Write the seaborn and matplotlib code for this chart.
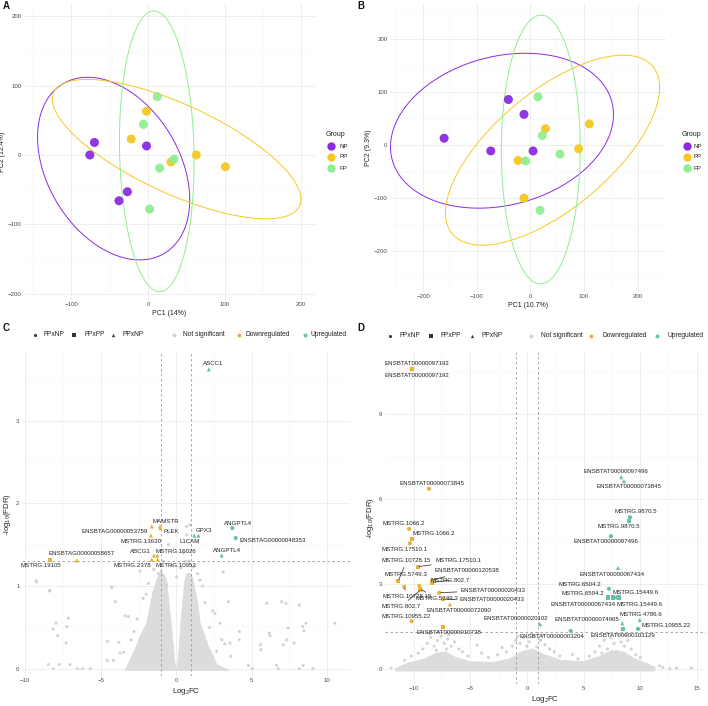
import numpy as np
import pandas as pd
import matplotlib
matplotlib.use("Agg")
import matplotlib.pyplot as plt
from matplotlib.lines import Line2D
import seaborn as sns

# ---------------- data ----------------
groups = ["NP", "PP", "FP"]
group_colors = {"NP": "#8A2BE2", "PP": "#F4C922", "FP": "#90EE90"}

# PCA panel A
A_NP_x = [-70, -76, -2, -27, -38]
A_NP_y = [18, 0, 13, -53, -66]
A_PP_x = [-2, -22, 30, 63, 101]
A_PP_y = [63, 23, -10, 0, -17]
A_FP_x = [12, -6, 15, 34, 2]
A_FP_y = [84, 44, -19, -6, -78]
# PCA panel B
B_NP_x = [-161, -41, -12, -74, 5]
B_NP_y = [13, 86, 58, -11, -11]
B_PP_x = [28, 110, 90, -23, -12]
B_PP_y = [31, 40, -7, -29, -100]
B_FP_x = [14, 22, 55, -9, 18]
B_FP_y = [91, 18, -17, -30, -123]

comparisons = ["FPxNP", "FPxPP", "PPxNP"]
reg_colors = {"Not significant": "#D3D3D3", "Downregulated": "#E8B23A", "Upregulated": "#66C2A5"}
fc_cut = 1.0
fdr_cut = 0.05
ellipse_level = 0.95

# Volcano C: labelled genes
C_names = ["ASCC1", "MAMSTR", "ENSBTAG00000053759", "PLEK", "MSTRG.13630", "GPX3", "L1CAM",
           "ANGPTL4", "ENSBTAG00000048353", "ANGPTL4", "ENSBTAG00000058657", "MSTRG.19105",
           "ABCG1", "MSTRG.16026", "MSTRG.2378", "MSTRG.10953"]
C_lfc = [2.15, -1.08, -1.63, -1.05, -1.68, 1.46, 1.19, 3.71, 3.93, 3.0, -6.6, -8.36,
         -1.48, -1.26, -1.63, -1.23]
C_nlogfdr = [3.62, 1.72, 1.72, 1.70, 1.61, 1.61, 1.61, 1.70, 1.58, 1.37, 1.31, 1.31,
             1.37, 1.37, 1.32, 1.32]
C_cmp = ["PPxNP", "PPxNP", "PPxNP", "PPxNP", "PPxNP", "PPxNP", "PPxNP", "FPxNP", "FPxNP",
         "PPxNP", "PPxNP", "FPxPP", "PPxNP", "PPxNP", "PPxNP", "PPxNP"]
# Volcano C: scattered non-significant genes
C_ns_x = [-9.25, -8.4, -8.15, -7.97, -7.15, -7.26, -7.86, -7.3, -8.48, -8.15, -7.75, -7.04,
          -6.56, -6.2, -5.7, -4.57, -4.17, -4.57, -3.8, -4.04, -4.28, -3.4, -3.18, -3.73,
          3.44, 4.17, 4.17, 3.55, 4.77, 5.03, 5.6, 5.98, 6.16, 6.2, 5.58, 6.64, 6.75, 6.97,
          7.26, 7.3, 7.08, 7.4, 7.8, 8.15, 8.37, 8.45, 8.59, 8.15, 9.03, 8.4, 10.5, 3.0,
          2.67, 2.56, 0.69, 0.9, 0.69, 0.46, 0.6, 1.13, 1.57, 3.1, 0.02, -1.85, -4.28,
          -8.36, -9.29, -0.64, -1.19, -2.4, -0.53, -1.0, 1.4, -0.3, 0.3, -2.8, 2.2, -3.5,
          3.6, -2.2, 1.9, -1.5, 1.75, -0.85, 0.85, -2.6, -2.0, 2.4, 2.9, -3.0, 3.2]
C_ns_y = [1.05, 0.94, 0.48, 0.55, 0.61, 0.51, 0.40, 0.31, 0.05, 0.0, 0.05, 0.05,
          0.0, 0.0, 0.0, 0.1, 0.1, 0.33, 0.32, 0.81, 0.99, 0.64, 0.63, 0.19,
          0.81, 0.45, 0.35, 0.31, 0.04, 0.0, 0.23, 0.79, 0.43, 0.4, 0.29, 0.04, 0.0, 0.81,
          0.79, 0.35, 0.29, 0.49, 0.31, 0.77, 0.51, 0.46, 0.55, 0.0, 0.0, 0.04, 0.55, 0.35,
          0.21, 0.67, 1.72, 1.74, 1.62, 1.40, 1.3, 1.23, 1.07, 1.17, 1.11, 1.03, 0.98,
          0.95, 1.06, 1.01, 1.15, 1.18, 1.5, 1.17, 1.15, 1.25, 1.22, 0.45, 0.5, 0.2,
          0.15, 0.85, 0.8, 1.2, 1.0, 1.3, 1.3, 0.6, 0.9, 0.7, 0.55, 0.35, 0.3]
# Volcano C: dense cloud outline (left and right lobes)
C_cloudL_x = [-3.4, -3.2, -2.95, -2.63, -2.4, -1.96, -1.74, -1.52, -1.3, -1.1, -0.85,
              -0.64, -0.53, -0.42, -0.3, -0.2, -0.08, 0.0]
C_cloudL_y = [-0.02, 0.05, 0.15, 0.27, 0.39, 0.55, 0.75, 0.95, 1.07, 1.15, 1.15,
              1.07, 0.87, 0.67, 0.47, 0.27, 0.05, -0.02]
C_cloudR_x = [0.0, 0.09, 0.2, 0.35, 0.57, 0.7, 0.95, 1.13, 1.24, 1.46, 1.57, 1.9,
              2.12, 2.45, 2.67, 3.5]
C_cloudR_y = [-0.02, 0.05, 0.27, 0.67, 1.07, 1.15, 1.15, 1.07, 0.95, 0.75, 0.55, 0.39,
              0.27, 0.15, 0.05, -0.02]

# Volcano D: labelled genes
D_names = ["ENSBTAT00000097192", "ENSBTAT00000097192", "ENSBTAT00000073845", "MSTRG.1066.2",
           "MSTRG.1066.2", "MSTRG.17510.1", "MSTRG.17510.1", "MSTRG.10728.15", "MSTRG.10728.15",
           "MSTRG.5749.3", "MSTRG.5749.3", "ENSBTAT00000120538", "MSTRG.802.7", "MSTRG.802.7",
           "ENSBTAT00000020433", "ENSBTAT00000020433", "ENSBTAT00000072090", "MSTRG.10955.22",
           "ENSBTAT00000010738",
           "ENSBTAT00000020102", "ENSBTAT00000003204", "ENSBTAT00000074965", "MSTRG.4786.6",
           "MSTRG.10955.22", "ENSBTAT00000103129", "ENSBTAT00000067434", "MSTRG.6504.2",
           "MSTRG.6504.2", "MSTRG.15449.6", "MSTRG.15449.6", "ENSBTAT00000067434",
           "ENSBTAT00000097496", "ENSBTAT00000073845", "MSTRG.9870.5", "MSTRG.9870.5",
           "ENSBTAT00000097496"]
D_lfc = [-10.18, -10.18, -8.65, -10.41, -10.15, -10.33, -9.65, -11.36, -10.83, -9.5, -9.44,
         -8.33, -8.4, -9.38, -7.74, -7.39, -6.8, -10.18, -7.39,
         1.15, 3.86, 8.41, 9.95, 9.8, 8.5, 8.03, 7.24, 7.12, 7.94, 8.15, 7.6, 8.33, 8.56,
         9.09, 9.03, 7.41]
D_nlogfdr = [10.6, 10.6, 6.37, 4.95, 4.6, 4.44, 3.61, 3.11, 2.9, 2.93, 2.82, 3.14, 3.05, 2.79,
             2.69, 2.46, 2.28, 1.68, 1.48,
             1.58, 1.34, 1.61, 1.73, 1.41, 1.41, 3.57, 2.83, 2.52, 2.52, 2.52, 2.52, 6.78,
             6.64, 5.36, 5.22, 4.69]
D_cmp = ["FPxNP", "FPxPP", "FPxNP", "FPxNP", "FPxPP", "FPxNP", "FPxPP", "FPxPP", "FPxNP",
         "FPxNP", "FPxPP", "FPxNP", "FPxPP", "FPxNP", "FPxNP", "FPxPP", "PPxNP", "FPxNP",
         "FPxPP",
         "PPxNP", "FPxNP", "PPxNP", "PPxNP", "FPxNP", "FPxPP", "PPxNP", "FPxNP", "FPxPP",
         "FPxNP", "FPxPP", "FPxPP", "PPxNP", "PPxNP", "FPxNP", "FPxPP", "FPxNP"]
# Volcano D: scattered non-significant genes
D_ns_x = [-9.2, -8.8, -8.5, -8.2, -7.9, -7.6, -7.3, -7.0, -6.7, -6.4, -6.0, -5.7, -8.0,
          -7.1, -9.6, -10.2, -10.8, -5.2, -4.4, -4.0, -3.4, -2.6,
          -1.8, -1.3, -1.0, -0.6, -0.3, 0.2, 0.6, 0.85, 1.2, 1.6, 2.0, 2.4, 2.9, -2.2, 0.0, 1.4,
          5.5, 6.0, 6.4, 6.8, 7.1, 7.4, 7.7, 8.0, 8.3, 8.6, 8.9, 9.2, 9.6, 10.0, 7.9, 6.6,
          4.5, 4.0, 12.0, 12.6, 13.2, 14.5, 11.7, -12.0, -8.6, -7.8, -6.9, 0.4, -0.8, 7.2, 8.7]
D_ns_y = [0.7, 0.9, 1.1, 0.8, 1.0, 1.15, 0.9, 1.05, 0.8, 0.95, 0.7, 0.6, 0.65,
          0.7, 0.55, 0.45, 0.3, 0.45, 0.84, 0.55, 0.4, 0.5,
          0.6, 0.8, 1.0, 0.9, 1.1, 0.95, 1.15, 0.78, 1.0, 0.85, 0.7, 0.6, 0.45, 0.75, 0.8, 1.2,
          0.45, 0.6, 0.8, 1.0, 0.7, 1.1, 0.9, 1.2, 0.95, 0.8, 1.0, 0.7, 0.5, 0.4, 0.6, 0.55,
          0.35, 0.5, 0.05, 0.0, 0.02, 0.03, 0.1, 0.02, 1.25, 1.3, 1.2, 1.25, 1.15, 1.25, 1.2]
# Volcano D: dense band outline
D_band_x = [-11.6, -11.0, -10.5, -9.0, -8.0, -7.2, -6.3, -5.0, -3.0, -1.5, -0.5, 0.5, 1.5,
            3.0, 5.0, 6.5, 7.5, 8.5, 9.5, 10.5, 11.3, 11.3, -11.6]
D_band_y = [0.0, 0.12, 0.2, 0.35, 0.55, 0.6, 0.4, 0.25, 0.22, 0.35, 0.6, 0.7, 0.5,
            0.3, 0.25, 0.45, 0.65, 0.6, 0.35, 0.2, 0.05, -0.08, -0.08]

# label placement (pixel offsets, segment flag) -- layout only
C_lab_off = [(4.6, 6), (5.7, 5.1), (-36.7, -4.6), (10.9, -3.7), (-10.3, -6.1), (5.4, 4.9),
             (-4.3, -6.4), (5.7, 4.8), (36.7, -2.3), (5.7, 5.1), (5.4, 6.7), (-9.3, -5.6),
             (-14, 3.7), (18.7, 3.7), (-19.4, -5.8), (18.3, -5.8)]
D_lab_off = [(5.6, 6.2, 0), (5.6, -6.2, 0), (2.7, 4.9, 0), (-5.7, 5.3, 0), (21.3, 5.5, 0),
             (-5.7, -6.6, 0), (40.6, 5.8, 1), (8.4, 19.9, 1), (2.7, -9.9, 1), (-13.4, 11, 0),
             (16.7, -9.2, 1), (34.1, 9.3, 1), (18.2, 2.3, 1), (-20, -16.7, 1), (54, 2.5, 1),
             (48.4, -0.7, 1), (9, -5.7, 0), (-5.7, 5, 0), (6, -5.8, 0),
             (-24.3, 5.8, 0), (-18.4, -5.8, 0), (-35.6, 3.9, 0), (1.6, 5.6, 0), (28.3, 3.2, 0),
             (-0.6, -6.4, 0), (-5.7, -6.8, 0), (-29, 4.1, 0), (-24.4, 3.6, 0), (18.7, 4.9, 0),
             (20, -6.7, 0), (-29.8, -6.7, 0), (-5.4, 5.6, 0), (5.3, -5.7, 0), (6, 6.1, 0),
             (-10, -5.7, 0), (-5, -5.4, 0)]

# ---------------- style ----------------
sns.set_style("white")
plt.rcParams["font.family"] = ["Liberation Sans", "DejaVu Sans"]
plt.rcParams["mathtext.fontset"] = "custom"
plt.rcParams["mathtext.rm"] = "Liberation Sans"
plt.rcParams["mathtext.it"] = "Liberation Sans:italic"
plt.rcParams["mathtext.default"] = "regular"

W, H = 708, 706
fig = plt.figure(figsize=(W / 100, H / 100), dpi=100)
fig.patch.set_facecolor("white")
TICK_FS = 4.4
TITLE_FS = 5.0


def add_ax(l, t, r, b):
    return fig.add_axes([l / W, 1 - b / H, (r - l) / W, (b - t) / H])


def style_ax(ax, xt, yt, xminor, yminor):
    for s in ax.spines.values():
        s.set_visible(False)
    ax.set_xticks(xt)
    ax.set_yticks(yt)
    ax.set_xticks(xminor, minor=True)
    ax.set_yticks(yminor, minor=True)
    ax.tick_params(which="both", length=0, labelsize=TICK_FS, labelcolor="#4D4D4D", pad=1.8)
    ax.grid(True, which="major", color="#EBEBEB", lw=0.6)
    ax.grid(True, which="minor", color="#F4F4F4", lw=0.35)
    ax.set_axisbelow(True)


def cov_trob(X, nu=5, maxit=25, tol=0.01):
    # multivariate-t robust covariance (as in MASS::cov.trob, used by stat_ellipse)
    n, p = X.shape
    loc = X.mean(axis=0)
    w = np.ones(n)
    Xc = X - loc
    for _ in range(maxit):
        w0 = w
        Xc = X - loc
        _, d, vt = np.linalg.svd(Xc / np.sqrt(n), full_matrices=False)
        wX = Xc @ vt.T @ np.diag(1 / d)
        Q = (wX ** 2).sum(axis=1)
        w = (nu + p) / (nu + Q)
        loc = (w[:, None] * X).sum(axis=0) / w.sum()
        if np.all(np.abs(w - w0) < tol):
            break
    cov = (np.sqrt(w)[:, None] * Xc).T @ (np.sqrt(w)[:, None] * Xc) / n
    return loc, cov


def ellipse(ax, x, y, color):
    X = np.column_stack([x, y]).astype(float)
    n = X.shape[0]
    center, shape = cov_trob(X)
    dfd = n - 1
    qf = dfd / 2 * ((1 - ellipse_level) ** (-2 / dfd) - 1)  # F(2, dfd) quantile
    radius = np.sqrt(2 * qf)
    R = np.linalg.cholesky(shape).T
    t = np.linspace(0, 2 * np.pi, 300)
    circ = np.column_stack([np.cos(t), np.sin(t)])
    pts = center + radius * (circ @ R)
    ax.plot(pts[:, 0], pts[:, 1], color=color, lw=0.7, zorder=2)


def pca_panel(ax, data, xlab, ylab):
    rows = []
    for g, (xs, ys) in zip(groups, data):
        ellipse(ax, xs, ys, group_colors[g])
        for a, b in zip(xs, ys):
            rows.append({"PC1": a, "PC2": b, "Group": g})
    df = pd.DataFrame(rows)
    sns.scatterplot(data=df, x="PC1", y="PC2", hue="Group", hue_order=groups,
                    palette=group_colors, s=42, edgecolor="none", alpha=0.95,
                    legend=False, ax=ax, zorder=3)
    ax.set_xlabel(xlab, fontsize=TITLE_FS, color="#222222", labelpad=2)
    ax.set_ylabel(ylab, fontsize=TITLE_FS, color="#222222", labelpad=1.5)


def fig_marker(px, py, marker, color, ms):
    fig.add_artist(Line2D([px / W], [1 - py / H], marker=marker, color=color, markersize=ms,
                          markeredgewidth=0, linestyle="None", transform=fig.transFigure))


def fig_text(px, py, s, **kw):
    fig.text(px / W, 1 - py / H, s, **kw)


# ---------------- Panel A ----------------
axA = add_ax(24, 3, 315, 300)
pca_panel(axA, [(A_NP_x, A_NP_y), (A_PP_x, A_PP_y), (A_FP_x, A_FP_y)], "PC1 (14%)", "PC2 (12.4%)")
axA.set_xlim(-162, 218)
axA.set_ylim(-209, 219)
style_ax(axA, [-100, 0, 100, 200], [-200, -100, 0, 100, 200],
         [-150, -50, 50, 150], [-150, -50, 50, 150])

# ---------------- Panel B ----------------
axB = add_ax(390, 3, 666, 292)
pca_panel(axB, [(B_NP_x, B_NP_y), (B_PP_x, B_PP_y), (B_FP_x, B_FP_y)], "PC1 (10.7%)", "PC2 (9.3%)")
axB.set_xlim(-262, 253)
axB.set_ylim(-277, 268)
style_ax(axB, [-200, -100, 0, 100, 200], [-200, -100, 0, 100, 200],
         [-250, -150, -50, 50, 150], [-250, -150, -50, 50, 150, 250])

# group legends
for lx, mx, tx in [(326, 331, 340), (682, 687, 694)]:
    fig_text(lx, 135, "Group", fontsize=5.0, color="#222222", ha="left", va="center")
    for g, py in zip(groups, [146, 156.5, 168]):
        fig_marker(mx, py, "o", group_colors[g], 6)
        fig_text(tx, py, g, fontsize=4.4, color="#222222", ha="left", va="center")


# ---------------- Volcano panels ----------------
def volcano(ax, names, lfc, nlf, cmp, ns_x, ns_y, polys, offs):
    for px_, py_ in polys:
        ax.fill(px_, py_, color="#DCDCDC", lw=0.6, ec="#DCDCDC", zorder=1)
    dns = pd.DataFrame({"lfc": ns_x, "nlf": ns_y})
    sns.scatterplot(data=dns, x="lfc", y="nlf", color=reg_colors["Not significant"], s=5,
                    edgecolor="none", legend=False, ax=ax, zorder=2)
    reg = ["Upregulated" if v > 0 else "Downregulated" for v in lfc]
    dsig = pd.DataFrame({"lfc": lfc, "nlf": nlf, "Comparison": cmp, "Regulation": reg})
    sns.scatterplot(data=dsig, x="lfc", y="nlf", hue="Regulation", palette=reg_colors,
                    style="Comparison", markers={"FPxNP": "o", "FPxPP": "s", "PPxNP": "^"},
                    s=9, edgecolor="none", legend=False, ax=ax, zorder=4)
    thr = -np.log10(fdr_cut)
    ax.axvline(-fc_cut, color="#9A9A9A", lw=0.6, ls=(0, (3, 3)), zorder=3)
    ax.axvline(fc_cut, color="#9A9A9A", lw=0.6, ls=(0, (3, 3)), zorder=3)
    ax.axhline(thr, color="#9A9A9A", lw=0.6, ls=(0, (3, 3)), zorder=3)
    for nm, a, b, o in zip(names, lfc, nlf, offs):
        seg = len(o) > 2 and o[2]
        kw = {}
        if seg:
            kw["arrowprops"] = dict(arrowstyle="-", lw=0.5, color="#222222", shrinkA=0.5, shrinkB=1)
        ax.annotate(nm, xy=(a, b), xytext=(o[0], o[1]), textcoords="offset pixels",
                    ha="center", va="center", fontsize=4.4, color="#222222", zorder=5, **kw)
    ax.set_xlabel("Log$_2$FC", fontsize=5.6, color="#222222", labelpad=1.5)
    ax.set_ylabel("-log$_{10}$(FDR)", fontsize=5.6, color="#222222", labelpad=2)


axC = add_ax(22, 352, 350, 676)
volcano(axC, C_names, C_lfc, C_nlogfdr, C_cmp, C_ns_x, C_ns_y,
        [(C_cloudL_x, C_cloudL_y), (C_cloudR_x, C_cloudR_y)], C_lab_off)
axC.set_xlim(-10.22, 11.5)
axC.set_ylim(-0.088, 3.83)
style_ax(axC, [-10, -5, 0, 5, 10], [0, 1, 2, 3],
         [-7.5, -2.5, 2.5, 7.5], [0.5, 1.5, 2.5, 3.5])

axD = add_ax(385, 352, 706, 684)
volcano(axD, D_names, D_lfc, D_nlogfdr, D_cmp, D_ns_x, D_ns_y,
        [(D_band_x, D_band_y)], D_lab_off)
axD.set_xlim(-12.53, 15.8)
axD.set_ylim(-0.54, 11.21)
style_ax(axD, [-10, -5, 0, 5, 10, 15], [0, 3, 6, 9],
         [-12.5, -7.5, -2.5, 2.5, 7.5, 12.5], [1.5, 4.5, 7.5, 10.5])

# volcano legends
legend_items = [("o", "#333333", 2.2, "FPxNP"), ("s", "#333333", 2.2, "FPxPP"),
                ("^", "#333333", 2.4, "PPxNP"),
                ("o", reg_colors["Not significant"], 2.8, "Not significant"),
                ("o", reg_colors["Downregulated"], 2.8, "Downregulated"),
                ("o", reg_colors["Upregulated"], 2.8, "Upregulated")]
C_leg_pos = [(35, 43.3), (74, 84.3), (113, 122.7), (174, 182.7), (239, 246), (305, 310.7)]
D_leg_pos = [(389.7, 399.7), (430.7, 440.7), (471.7, 482), (530.7, 540.7), (591.3, 602.3),
             (657.3, 667.3)]
for pos, ly in [(C_leg_pos, 335), (D_leg_pos, 335.7)]:
    for (mk, col, ms, lab), (mx, tx) in zip(legend_items, pos):
        fig_marker(mx, ly, mk, col, ms)
        fig_text(tx, ly, lab, fontsize=4.8, color="#222222", ha="left", va="center")

# panel tags
for tag, px_, py_ in [("A", 3, 6), ("B", 357, 6), ("C", 3, 328), ("D", 357, 328)]:
    fig_text(px_, py_, tag, fontsize=7, fontweight="bold", color="#111111", ha="left", va="center")

fig.savefig("out.png", dpi=100, facecolor="white")
